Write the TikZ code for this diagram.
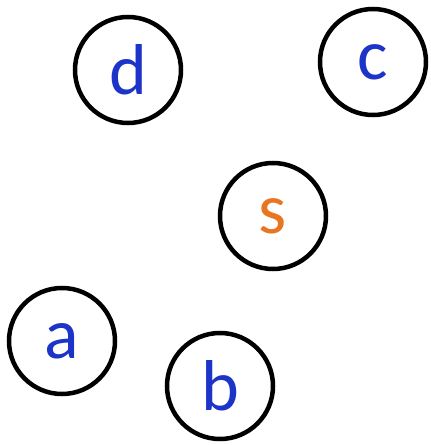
\documentclass[tikz,border=0pt]{standalone}
\usepackage{fontspec}
\setmainfont{Carlito}
\definecolor{vblue}{RGB}{28,52,200}
\definecolor{vorange}{RGB}{232,118,32}
\begin{document}
\begin{tikzpicture}[x=1pt, y=1pt,
  vertex/.style={circle, draw=black, line width=4.5pt, minimum size=106pt, inner sep=0pt,
    font=\fontsize{72}{72}\selectfont, text=vblue}]
  \useasboundingbox (0,0) rectangle (431,445);
  % vertices
  \node[vertex] (d) at (128,375) {d};
  \node[vertex] (c) at (373,383) {c};
  \node[vertex, text=vorange] (s) at (273,229) {s};
  \node[vertex] (a) at (62,104) {a};
  \node[vertex] (b) at (220,59) {b};
\end{tikzpicture}
\end{document}
